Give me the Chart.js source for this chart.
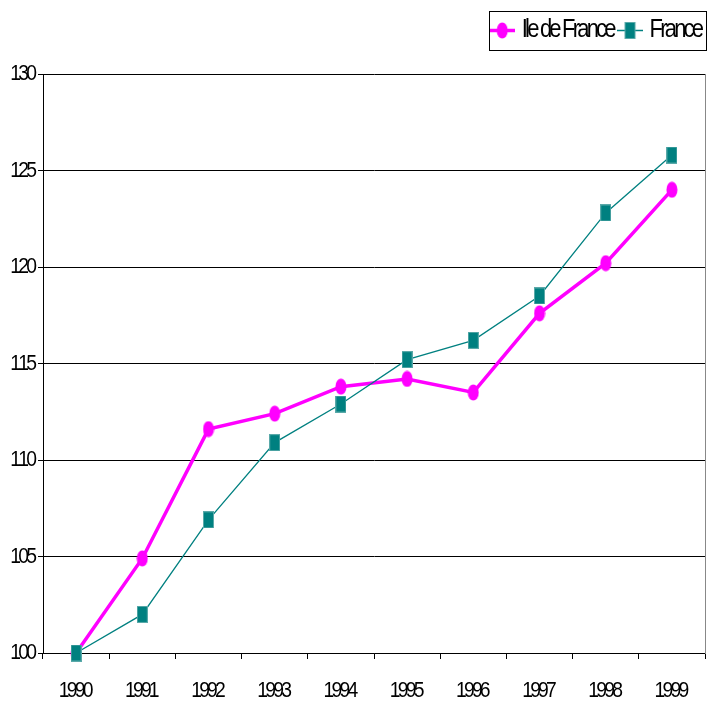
<!DOCTYPE html>
<html><head><meta charset="utf-8">
<script src="https://cdn.jsdelivr.net/npm/chart.js@4"></script>
<style>html,body{margin:0;padding:0;background:#fff}#wrap{width:721px;height:702px}</style>
</head><body><div id="wrap"><canvas id="c" width="721" height="702"></canvas></div>
<script>
// ---- data ----
const years = ['1990','1991','1992','1993','1994','1995','1996','1997','1998','1999'];
const ileDeFrance = [100, 104.9, 111.6, 112.4, 113.8, 114.2, 113.5, 117.6, 120.2, 124.0];
const france = [100, 102.0, 106.9, 110.9, 112.9, 115.2, 116.2, 118.5, 122.8, 125.8];
const seriesNames = ['Ile de France', 'France'];
const yMin = 100, yMax = 130, yStep = 5;

// ---- styles ----
const MAGENTA = '#FF00FF', TEAL = '#008080';
const FONT = "'Liberation Sans', Arial, sans-serif";

function makeCanvas(w, h, fn) { const cv = document.createElement('canvas'); cv.width = w; cv.height = h; fn(cv.getContext('2d')); return cv; }
function ellipse(ctx, cx, cy) { ctx.fillStyle = MAGENTA; ctx.beginPath(); ctx.ellipse(cx, cy, 5.5, 8, 0, 0, Math.PI * 2); ctx.fill(); }
function square(ctx, cx, cy) { ctx.fillStyle = '#5aa9a9'; ctx.fillRect(cx - 5.5, cy - 8.5, 11, 17); ctx.fillStyle = TEAL; ctx.fillRect(cx - 4.5, cy - 7.5, 9, 15); }
const ptIle = makeCanvas(12, 17, c => ellipse(c, 6, 8.5));
const ptFr = makeCanvas(11, 17, c => square(c, 5.5, 8.5));
const lgIle = makeCanvas(26, 17, c => { c.strokeStyle = MAGENTA; c.lineWidth = 3.5; c.beginPath(); c.moveTo(0, 8.5); c.lineTo(26, 8.5); c.stroke(); ellipse(c, 13, 8.5); });
const lgFr = makeCanvas(26, 17, c => { c.strokeStyle = TEAL; c.lineWidth = 1.5; c.beginPath(); c.moveTo(0, 8.5); c.lineTo(26, 8.5); c.stroke(); square(c, 13, 8.5); });
const legendIcons = [lgIle, lgFr];

// ---- condensed text (horizontal squeeze + tight spacing) ----
const SX = 0.88, SP = -2.8;
const canvas = document.getElementById('c');
const cctx = canvas.getContext('2d');
const origFill = cctx.fillText.bind(cctx), origMeasure = cctx.measureText.bind(cctx);
cctx.fillText = function (t, x, y) {
  const chars = [...String(t)];
  const widths = chars.map(ch => origMeasure(ch).width * SX);
  const total = widths.reduce((a, b) => a + b, 0) + SP * Math.max(0, chars.length - 1);
  const al = this.textAlign;
  let cx = x;
  if (al === 'right' || al === 'end') cx = x - total; else if (al === 'center') cx = x - total / 2;
  chars.forEach((ch, i) => {
    this.save(); this.textAlign = 'left'; this.translate(cx, y); this.scale(SX, 1);
    origFill(ch, 0, 0); this.restore();
    cx += widths[i] + SP;
  });
};
cctx.measureText = function (t) {
  const chars = [...String(t)];
  const m = origMeasure(t);
  const w = chars.reduce((a, ch) => a + origMeasure(ch).width * SX, 0) + SP * Math.max(0, chars.length - 1);
  return { width: w,
    actualBoundingBoxAscent: m.actualBoundingBoxAscent, actualBoundingBoxDescent: m.actualBoundingBoxDescent,
    actualBoundingBoxLeft: m.actualBoundingBoxLeft * SX, actualBoundingBoxRight: m.actualBoundingBoxRight * SX,
    fontBoundingBoxAscent: m.fontBoundingBoxAscent, fontBoundingBoxDescent: m.fontBoundingBoxDescent };
};

const legendFrame = {
  id: 'legendFrame',
  afterInit(c) {
    const lg = c.legend; const f = lg.fit;
    lg.fit = function () { f.call(this); this.height += 21; };
  },
  afterDraw(c) {
    const lg = c.legend, hb = lg.legendHitBoxes, ctx = c.ctx;
    if (!hb || !hb.length) return;
    const last = hb[hb.length - 1];
    const l = Math.round(hb[0].left - 6.5), r = Math.round(last.left + last.width + 2);
    const t = Math.round(hb[0].top - 7), b = Math.round(hb[0].top + hb[0].height + 7);
    ctx.save(); ctx.strokeStyle = '#000'; ctx.lineWidth = 1;
    ctx.strokeRect(l + 0.5, t + 0.5, r - l, b - t); ctx.restore();
  }
};

new Chart(canvas, {
  type: 'line',
  data: {
    labels: years,
    datasets: [
      { label: seriesNames[0], data: ileDeFrance, borderColor: MAGENTA, backgroundColor: MAGENTA, borderWidth: 3.5,
        pointStyle: ptIle, pointRadius: 6, tension: 0, clip: false, order: 1 },
      { label: seriesNames[1], data: france, borderColor: TEAL, backgroundColor: TEAL, borderWidth: 1.3,
        pointStyle: ptFr, pointRadius: 6, tension: 0, clip: false, order: 0 }
    ]
  },
  options: {
    responsive: false, animation: false, devicePixelRatio: 1,
    events: [],
    layout: { padding: { top: 11.5, right: 10.5, left: 0, bottom: 0 } },
    plugins: {
      tooltip: { enabled: false },
      title: { display: false },
      legend: {
        position: 'top', align: 'end',
        labels: {
          usePointStyle: true, pointStyleWidth: 14, padding: 6.5, color: '#000',
          font: { family: FONT, size: 25 },
          generateLabels(chart) {
            return chart.data.datasets.map((ds, i) => ({
              text: ds.label, pointStyle: legendIcons[i], fillStyle: ds.borderColor, strokeStyle: ds.borderColor,
              lineWidth: 0, hidden: false, datasetIndex: i, fontColor: '#000'
            }));
          }
        }
      }
    },
    scales: {
      x: {
        offset: true,
        grid: { display: true, drawOnChartArea: false, drawTicks: true, tickLength: 6, color: '#000', offset: true },
        border: { display: true, color: '#000', width: 1 },
        ticks: { color: '#000', font: { family: FONT, size: 22 }, padding: 19, maxRotation: 0, autoSkip: false },
        afterFit(s) { s.height = 49; }
      },
      y: {
        min: yMin, max: yMax,
        grid: { color: '#000', lineWidth: 1, tickLength: 5, drawTicks: true },
        border: { display: true, color: '#000', width: 1 },
        ticks: { stepSize: yStep, color: '#000', font: { family: FONT, size: 22 }, padding: 1 },
        afterFit(s) { s.width = 43; }
      },
      y2: {
        position: 'right', min: yMin, max: yMax,
        grid: { display: false, drawOnChartArea: false, drawTicks: false },
        border: { display: true, color: '#888', width: 1 },
        ticks: { display: false },
        afterFit(s) { s.width = 5.5; }
      }
    }
  },
  plugins: [legendFrame]
});
</script>
</body></html>
